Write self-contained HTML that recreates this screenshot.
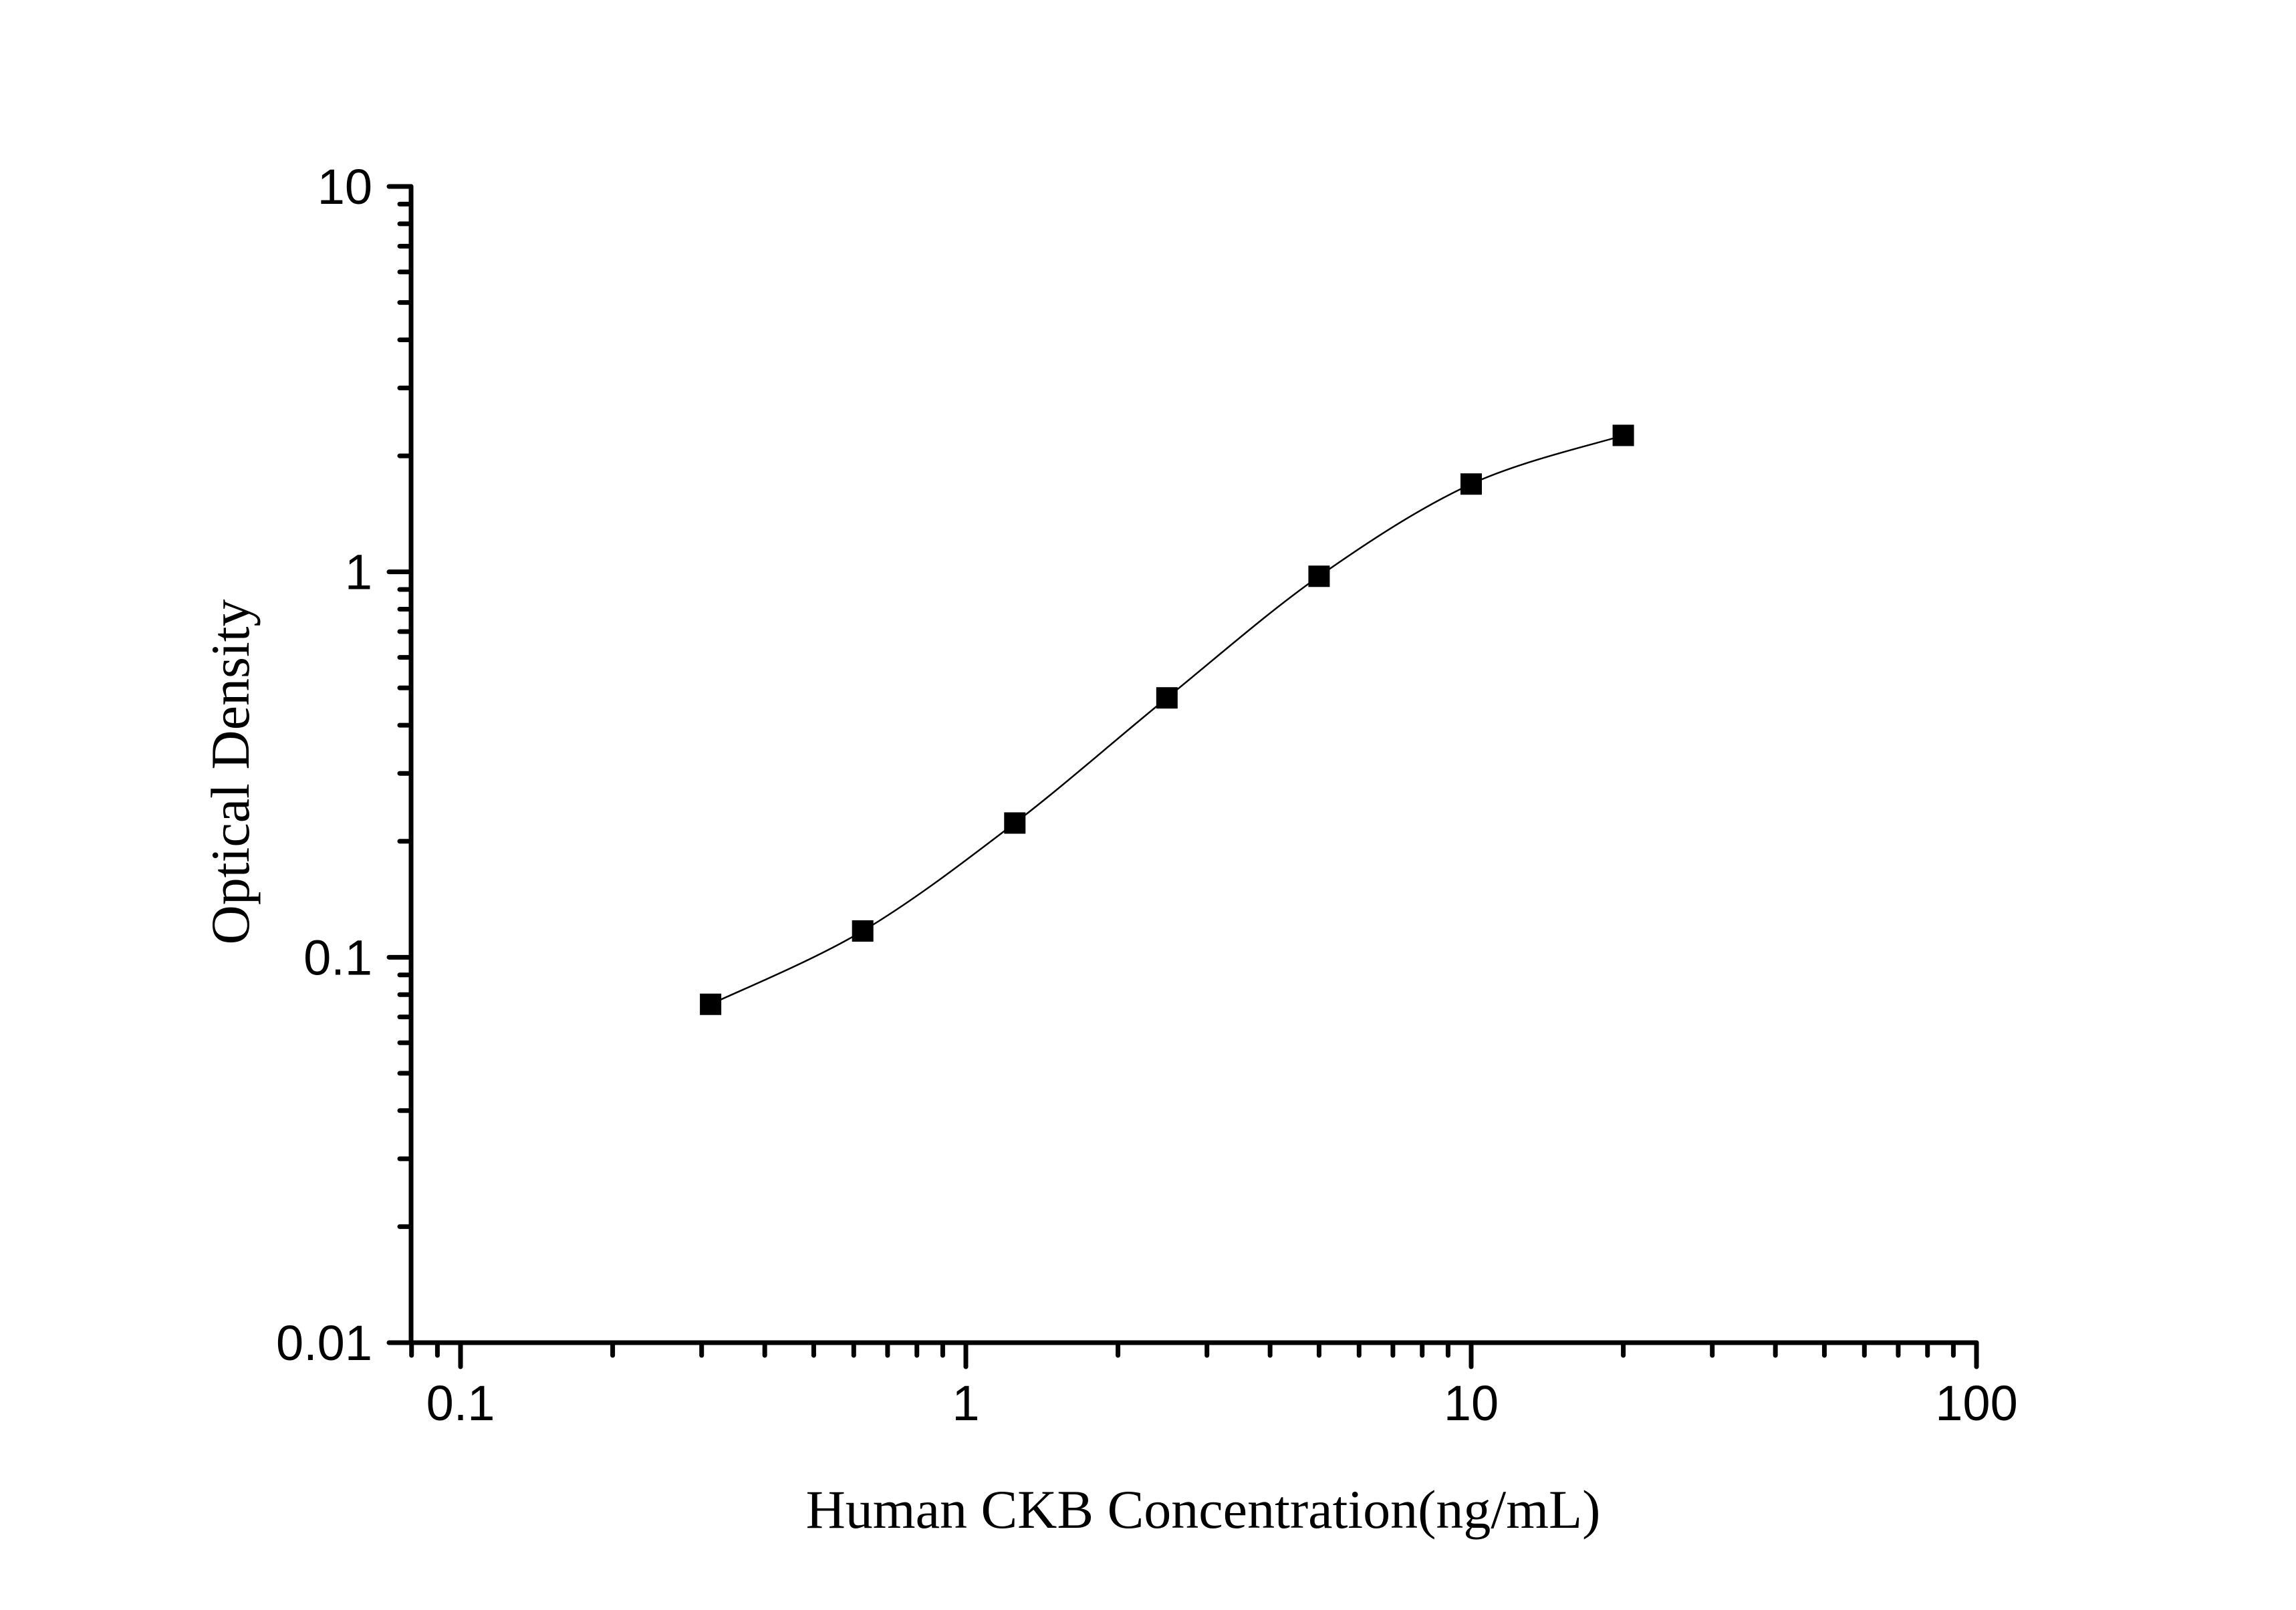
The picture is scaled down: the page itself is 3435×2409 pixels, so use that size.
<!DOCTYPE html>
<html><head><meta charset="utf-8"><style>
html,body{margin:0;padding:0;background:#fff;}
svg{display:block;}
</style></head><body>
<svg id="chart" width="3435" height="2409" viewBox="0 0 3435 2409" xmlns="http://www.w3.org/2000/svg">
<rect width="3435" height="2409" fill="#fff"/>
<g id="axes"></g>
<g id="series"></g>
<text x="1800" y="2286" text-anchor="middle" font-family="Liberation Serif, serif" font-size="82">Human CKB Concentration(ng/mL)</text>
<text transform="translate(372,1155) rotate(-90)" text-anchor="middle" font-family="Liberation Serif, serif" font-size="82">Optical Density</text>
</svg>
<script>
const concentrations = [0.3125, 0.625, 1.25, 2.5, 5, 10, 20];
const odValues = [0.0755, 0.117, 0.223, 0.471, 0.974, 1.69, 2.26];
const xTickValues = [0.1, 1, 10, 100];
const xTickLabels = ["0.1", "1", "10", "100"];
const yTickValues = [0.01, 0.1, 1, 10];
const yTickLabels = ["0.01", "0.1", "1", "10"];

const NS = "http://www.w3.org/2000/svg";
const X0 = 615, X1 = 2957, Y0 = 2009, Y1 = 279;
const xMinL = Math.log10(0.1) - (689 - 615) / 756, xMaxL = 2;
function xs(v){ return 689 + (Math.log10(v) + 1) * (X1 - 689) / 3; }
function ys(v){ return Y0 - (Math.log10(v) + 2) * (Y0 - Y1) / 3; }
function mk(tag, attrs, parent){ const e = document.createElementNS(NS, tag); for (const k in attrs) e.setAttribute(k, attrs[k]); parent.appendChild(e); return e; }
const axes = document.getElementById("axes"), series = document.getElementById("series");
const stroke = {stroke:"#000","stroke-width":7,"stroke-linecap":"round",fill:"none"};

const xAxis = mk("path", Object.assign({d:`M${X0},${Y0}H${X1}`}, stroke), axes);


const yAxis = mk("path", Object.assign({d:`M${X0},${Y0}V${Y1}`}, stroke), axes);



// x ticks
for (let d = -2; d <= 2; d++) {
  for (let m = 1; m <= 9; m++) {
    const v = m * Math.pow(10, d);
    const x = xs(v);
    if (x < X0 - 1 || x > X1 + 1) continue;
    const len = m === 1 ? 36 : 19;
    const t = mk("path", Object.assign({d:`M${x},${Y0}V${Y0+len}`}, stroke), axes);
    
    
  }
}
xTickValues.forEach((v, i) => {
  const t = mk("text", {x: xs(v), y: 2125, "text-anchor":"middle", "font-family":"Liberation Sans, sans-serif", "font-size":74}, axes);
  t.textContent = xTickLabels[i];
  
  
});
// y ticks
for (let d = -2; d <= 1; d++) {
  for (let m = 1; m <= 9; m++) {
    const v = m * Math.pow(10, d);
    const y = ys(v);
    if (y > Y0 + 1 || y < Y1 - 1) continue;
    const len = m === 1 ? 33 : 17;
    const t = mk("path", Object.assign({d:`M${X0},${y}H${X0-len}`}, stroke), axes);
    
    
  }
}
yTickValues.forEach((v, i) => {
  const t = mk("text", {x: 557, y: ys(v) + 26, "text-anchor":"end", "font-family":"Liberation Sans, sans-serif", "font-size":74}, axes);
  t.textContent = yTickLabels[i];
  
  
});

// smooth curve (Catmull-Rom through points in screen space)
const pts = concentrations.map((c, i) => [xs(c), ys(odValues[i])]);
let d = `M${pts[0][0]},${pts[0][1]}`;
for (let i = 0; i < pts.length - 1; i++) {
  const p0 = pts[Math.max(0, i - 1)], p1 = pts[i], p2 = pts[i + 1], p3 = pts[Math.min(pts.length - 1, i + 2)];
  const c1 = [p1[0] + (p2[0] - p0[0]) / 6, p1[1] + (p2[1] - p0[1]) / 6];
  const c2 = [p2[0] - (p3[0] - p1[0]) / 6, p2[1] - (p3[1] - p1[1]) / 6];
  d += ` C${c1[0]},${c1[1]} ${c2[0]},${c2[1]} ${p2[0]},${p2[1]}`;
}
const curve = mk("path", {d, stroke:"#000", "stroke-width":2.5, fill:"none"}, series);


pts.forEach(p => {
  const r = mk("rect", {x: p[0] - 16, y: p[1] - 16, width: 32, height: 32, fill: "#000"}, series);
  
  
});
</script>
</body></html>
